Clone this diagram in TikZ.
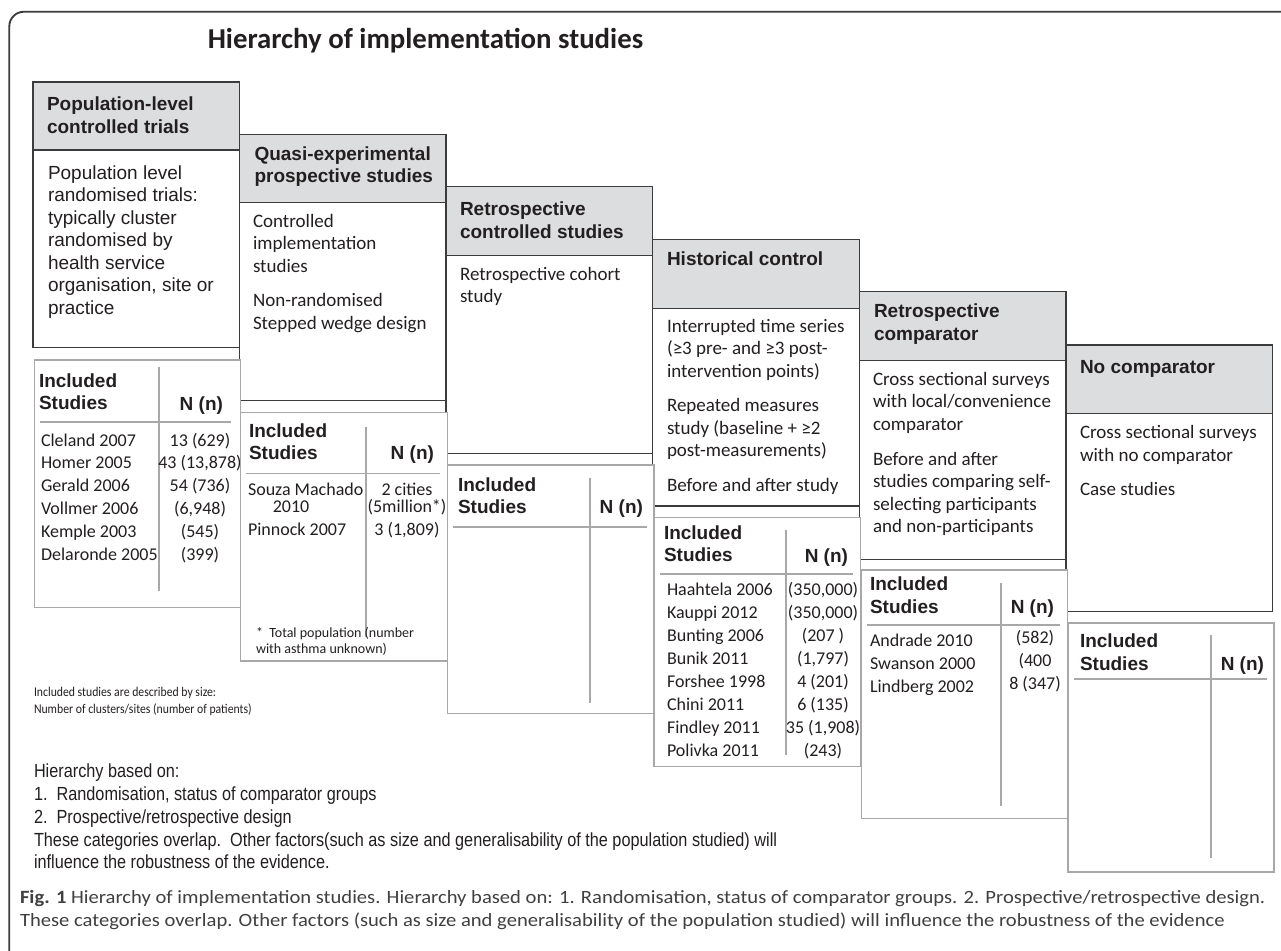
\documentclass[tikz,border=0pt]{standalone}
\usepackage{fontspec}
\setmainfont{Carlito}
\newfontfamily\arialf{Liberation Sans}
\newfontfamily\narrowf{Liberation Sans}[FakeStretch=0.856]
\newfontfamily\capf{Carlito}[FakeStretch=1.1]
\newfontfamily\notef{Carlito}[FakeStretch=0.88]
\definecolor{hdrgray}{HTML}{DCDDDE}
\definecolor{boxline}{HTML}{3C3C3C}
\definecolor{tblline}{HTML}{A8A8A8}
\definecolor{txt}{HTML}{231F20}
\definecolor{captxt}{HTML}{404040}
\newcommand\textlines[6]{%
  \foreach \s [count=\i from 0] in {#6}{\node[#2] (#1-\i) at ({#3},{#4+#5*\i}) {\s};}}
\begin{document}
\begin{tikzpicture}[x=0.75pt,y=-0.75pt,
  stepbody/.style={draw=boxline, line width=1.1pt, fill=white},
  stephead/.style={draw=boxline, line width=1.1pt, fill=hdrgray},
  tablebox/.style={draw=tblline, line width=1pt, fill=white},
  tablerule/.style={draw=tblline, line width=1pt},
  frame/.style={draw=boxline, line width=1.4pt, rounded corners=11pt},
  lbl/.style={anchor=base west, inner sep=0pt, outer sep=0pt, text=txt},
  ctr/.style={anchor=base, inner sep=0pt, outer sep=0pt, text=txt},
  rgt/.style={anchor=base east, inner sep=0pt, outer sep=0pt, text=txt},
  headfont/.style={font=\arialf\bfseries\fontsize{14.25}{17}\selectfont},
  arialbody/.style={font=\arialf\fontsize{14.25}{17}\selectfont},
  calbody/.style={font=\fontsize{14.25}{17}\selectfont},
  entry/.style={font=\fontsize{13.5}{16}\selectfont},
  footfont/.style={font=\fontsize{10.5}{12}\selectfont},
  notefont/.style={font=\notef\fontsize{10}{12}\selectfont},
  basisfont/.style={font=\narrowf\fontsize{14.25}{17}\selectfont},
  capfont/.style={font=\capf\fontsize{14.05}{17}\selectfont, text=captxt},
  titlefont/.style={font=\bfseries\fontsize{21.6}{26}\selectfont}
]
\useasboundingbox (0,0) rectangle (1281,950);
\fill[white] (0,0) rectangle (1281,950);

% outer frame
\draw[frame] (1300,11.7) -- (9.3,11.7) -- (9.3,970);

% title
\node[ctr, titlefont] (title) at (425.5,48) {Hierarchy of implementation studies};

% ---------- step boxes ----------
\path[stepbody] (33,82) rectangle (239.3,347.7);
\path[stephead] (33,82) rectangle (239.3,150);
\path[stepbody] (239.3,134.3) rectangle (446,400.7);
\path[stephead] (239.3,134.3) rectangle (446,202.3);
\path[stepbody] (446,186.7) rectangle (652.7,453.3);
\path[stephead] (446,186.7) rectangle (652.7,255.7);
\path[stepbody] (652.7,239.3) rectangle (859.5,506);
\path[stephead] (652.7,239.3) rectangle (859.5,308.3);
\path[stepbody] (859.5,291.7) rectangle (1066.2,559.3);
\path[stephead] (859.5,291.7) rectangle (1066.2,360.7);
\path[stepbody] (1066.2,345) rectangle (1272.7,611.7);
\path[stephead] (1066.2,345) rectangle (1272.7,413.3);

% box texts
\textlines{h1}{lbl,headfont}{47}{110}{23}{Population-level, controlled trials}
\textlines{b1}{lbl,arialbody}{48}{179}{22.5}{Population level, randomised trials:, typically cluster, randomised by, health service, {organisation, site or}, practice}

\textlines{h2}{lbl,headfont}{254.5}{160}{22.5}{Quasi-experimental, prospective studies}
\textlines{b2a}{lbl,calbody}{253}{227}{22.8}{Controlled, implementation, studies}
\textlines{b2b}{lbl,calbody}{253}{306.7}{22.6}{Non-randomised, Stepped wedge design}

\textlines{h3}{lbl,headfont}{460}{215.7}{22.5}{Retrospective, controlled studies}
\textlines{b3}{lbl,calbody}{460}{280}{22.7}{Retrospective cohort, study}

\textlines{h4}{lbl,headfont}{667}{265.7}{22.5}{Historical control}
\textlines{b4a}{lbl,calbody}{667}{332.7}{22.2}{Interrupted time series, {(≥3 pre- and ≥3 post-}, intervention points)}
\textlines{b4b}{lbl,calbody}{667}{411.7}{22.5}{Repeated measures, study (baseline + ≥2, post-measurements)}
\textlines{b4c}{lbl,calbody}{667}{491.7}{22.5}{Before and after study}

\textlines{h5}{lbl,headfont}{874}{317.3}{22.7}{Retrospective, comparator}
\textlines{b5a}{lbl,calbody}{873}{385}{22.5}{Cross sectional surveys, with local/convenience, comparator}
\textlines{b5b}{lbl,calbody}{873}{465}{22.6}{Before and after, studies comparing self-, selecting participants, and non-participants}

\textlines{h6}{lbl,headfont}{1080}{373.3}{22.5}{No comparator}
\textlines{b6a}{lbl,calbody}{1080}{438.3}{22.7}{Cross sectional surveys, with no comparator}
\textlines{b6b}{lbl,calbody}{1080}{495}{22.5}{Case studies}

% ---------- tables ----------
% table 1
\path[tablebox] (34.3,360) rectangle (240.7,607.7);
\draw[tablerule] (40,422) -- (231,422);
\draw[tablerule] (159,367) -- (159,591);
\textlines{t1h}{lbl,headfont}{39}{387}{22.5}{Included, Studies}
\node[rgt,headfont] (t1n) at (223,410) {N (n)};
\textlines{t1s}{lbl,entry}{41}{446}{22.8}{Cleland 2007, Homer 2005, Gerald 2006, Vollmer 2006, Kemple 2003, Delaronde 2005}
\textlines{t1v}{ctr,entry}{200}{446}{22.8}{{13 (629)}, {43 (13,878)}, {54 (736)}, {(6,948)}, {(545)}, {(399)}}

% table 2
\path[tablebox] (240.7,412.3) rectangle (447.3,661);
\draw[tablerule] (246,473.5) -- (440,473.5);
\draw[tablerule] (366,427) -- (366,637);
\textlines{t2h}{lbl,headfont}{249}{437}{22.3}{Included, Studies}
\node[rgt,headfont] (t2n) at (434,459.5) {N (n)};
\node[lbl,entry] (t2s0) at (248,495) {Souza Machado};
\node[ctr,entry] (t2s1) at (291,512) {2010};
\node[lbl,entry] (t2s2) at (248,535.5) {Pinnock 2007};
\node[ctr,entry] (t2v0) at (407,495) {2 cities};
\node[ctr,entry] (t2v1) at (407,512) {(5million*)};
\node[ctr,entry] (t2v2) at (407,535.5) {3 (1,809)};
\node[lbl,footfont,text=txt] (t2f0) at (256,637) {*\ \ Total population (number};
\node[lbl,footfont,text=txt] (t2f1) at (256,653.5) {with asthma unknown)};

% table 3
\path[tablebox] (447.3,465) rectangle (654,713.3);
\draw[tablerule] (453,527) -- (647,527);
\draw[tablerule] (590,478) -- (590,703);
\textlines{t3h}{lbl,headfont}{458}{491}{22.3}{Included, Studies}
\node[rgt,headfont] (t3n) at (643,513.5) {N (n)};

% table 4
\path[tablebox] (654,517.7) rectangle (860.7,766.7);
\draw[tablerule] (660,574) -- (853,574);
\draw[tablerule] (786,530) -- (786,755);
\textlines{t4h}{lbl,headfont}{664}{539}{22.7}{Included, Studies}
\node[rgt,headfont] (t4n) at (848,562) {N (n)};
\textlines{t4s}{lbl,entry}{667}{595.7}{22.9}{Haahtela 2006, Kauppi 2012, Bunting 2006, Bunik 2011, Forshee 1998, Chini 2011, Findley 2011, Polivka 2011}
\textlines{t4v}{ctr,entry}{823}{595.7}{22.9}{{(350,000)}, {(350,000)}, {(207 )}, {(1,797)}, {4 (201)}, {6 (135)}, {35 (1,908)}, {(243)}}

% table 5
\path[tablebox] (861.7,570) rectangle (1067.3,818.3);
\draw[tablerule] (867,625) -- (1060,625);
\draw[tablerule] (1001,583) -- (1001,806);
\textlines{t5h}{lbl,headfont}{870}{590}{23}{Included, Studies}
\node[rgt,headfont] (t5n) at (1054,613) {N (n)};
\textlines{t5s}{lbl,entry}{870}{646}{23}{Andrade 2010, Swanson 2000, Lindberg 2002}
\textlines{t5v}{ctr,entry}{1035}{643}{23}{{(582)}, {(400}, {8 (347)}}

% table 6
\path[tablebox] (1068,623) rectangle (1274,872);
\draw[tablerule] (1074,679) -- (1267,679);
\draw[tablerule] (1211,635) -- (1211,858);
\textlines{t6h}{lbl,headfont}{1080}{647}{23}{Included, Studies}
\node[rgt,headfont] (t6n) at (1264,670) {N (n)};

% ---------- notes ----------
\node[lbl,notefont] (n0) at (34,696) {Included studies are described by size:};
\node[lbl,notefont] (n1) at (34,713) {Number of clusters/sites (number of patients)};

\node[lbl,basisfont] (hb0) at (34,777) {Hierarchy based on:};
\node[lbl,basisfont] (hb1) at (34,800) {1.\ \ Randomisation, status of comparator groups};
\node[lbl,basisfont] (hb2) at (34,823) {2.\ \ Prospective/retrospective design};
\node[lbl,basisfont] (hb3) at (34,846) {These categories overlap.\ \ Other factors(such as size and generalisability of the population studied) will};
\node[lbl,basisfont] (hb4) at (34,868.5) {influence the robustness of the evidence.};

% caption
\node[lbl,capfont] (cap0) at (20,903) {\textbf{Fig. 1} Hierarchy of implementation studies. Hierarchy based on: 1. Randomisation, status of comparator groups. 2. Prospective/retrospective design.};
\node[lbl,capfont] (cap1) at (20,926) {These categories overlap. Other factors (such as size and generalisability of the population studied) will influence the robustness of the evidence};
\end{tikzpicture}
\end{document}
